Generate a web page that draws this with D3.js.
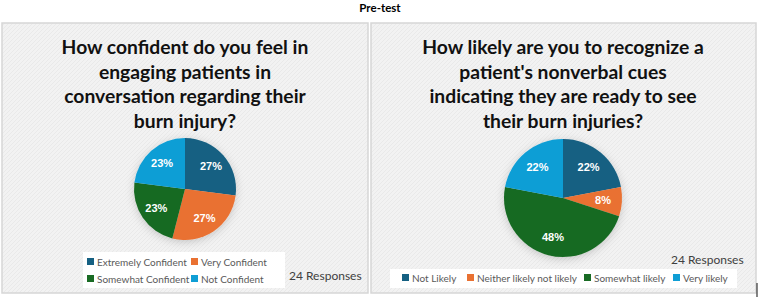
<!DOCTYPE html>
<html>
<head>
    <style>
        body { margin: 0; background: #fff; }
        svg { display: block; }
        .title { font-family: Lato, sans-serif; font-weight: bold; fill: #111; text-anchor: middle; }
        .legend text { font-family: Lato, sans-serif; font-size: 10px; fill: #595959; }
        .resp { font-family: Lato, sans-serif; font-size: 12px; fill: #404040; }
        .pct { font-family: "Liberation Sans", Arial, sans-serif; font-size: 11px; font-weight: bold; fill: #fff; text-anchor: middle; }
    </style>
</head>
<body>
<div id="chart"></div>
<script src="https://cdnjs.cloudflare.com/ajax/libs/d3/7.8.5/d3.min.js"></script>
<script>
// left chart
var confCats = ["Extremely Confident", "Very Confident", "Somewhat Confident", "Not Confident"];
var confValues = [27, 27, 23, 23];
var confTitle = ["How confident do you feel in", "engaging patients in", "conversation regarding their", "burn injury?"];

// right chart
var likelyCats = ["Not Likely", "Neither likely not likely", "Somewhat likely", "Very likely"];
var likelyValues = [22, 8, 48, 22];
var likelyTitle = ["How likely are you to recognize a", "patient's nonverbal cues", "indicating they are ready to see", "their burn injuries?"];

var colors = ["#156082", "#E97132", "#196B24", "#0F9ED5"];

var W = 760, H = 297;
var svg = d3.select("#chart").append("svg").attr("width", W).attr("height", H);

var defs = svg.append("defs");
var pat = defs.append("pattern").attr("id", "hatch").attr("patternUnits", "userSpaceOnUse")
    .attr("width", 4).attr("height", 4);
pat.append("rect").attr("width", 4).attr("height", 4).attr("fill", "#f2f2f2");
pat.append("path").attr("d", "M0,4 L4,0").attr("stroke", "#e9e9e9").attr("stroke-width", 1);

var sh = defs.append("filter").attr("id", "shadow").attr("x", "-30%").attr("y", "-30%").attr("width", "160%").attr("height", "160%");
sh.append("feDropShadow").attr("dx", 0).attr("dy", 2).attr("stdDeviation", 4).attr("flood-color", "#000").attr("flood-opacity", 0.18);

svg.append("text").attr("x", 380).attr("y", 12).attr("text-anchor", "middle")
    .style("font-family", "Lato, sans-serif").style("font-size", "11.5px").style("font-weight", "bold")
    .text("Pre-test");

function panel(opt) {
    var g = svg.append("g");
    g.append("rect").attr("x", opt.x).attr("y", 23).attr("width", opt.w).attr("height", 270)
        .attr("fill", "url(#hatch)").attr("stroke", "#d6d6d6").attr("stroke-width", 1.5);

    g.selectAll("text.title").data(opt.title).join("text")
        .attr("class", "title")
        .attr("x", opt.cx)
        .attr("y", function(d, i) { return 54 + i * 24.5; })
        .style("font-size", "19.3px")
        .text(function(d) { return d; });

    var pie = d3.pie().sort(null).value(function(d) { return d; });
    var arc = d3.arc().innerRadius(0).outerRadius(opt.r);
    var lab = d3.arc().innerRadius(opt.r * 0.68).outerRadius(opt.r * 0.68);
    var arcs = pie(opt.values);

    var pg = g.append("g").attr("transform", "translate(" + opt.cx + "," + opt.cy + ")");
    pg.append("g").attr("filter", "url(#shadow)")
        .selectAll("path").data(arcs).join("path")
        .attr("d", arc)
        .attr("fill", function(d, i) { return colors[i]; });
    pg.selectAll("text").data(arcs).join("text")
        .attr("class", "pct")
        .attr("transform", function(d) { return "translate(" + lab.centroid(d) + ")"; })
        .attr("dy", "0.35em")
        .text(function(d) { return d.data + "%"; });

    var lg = g.append("g").attr("class", "legend");
    lg.append("rect").attr("x", opt.legBox[0]).attr("y", opt.legBox[1])
        .attr("width", opt.legBox[2]).attr("height", opt.legBox[3]).attr("fill", "#fff");
    var items = lg.selectAll("g").data(opt.cats).join("g")
        .attr("transform", function(d, i) { return "translate(" + opt.legPos[i][0] + "," + opt.legPos[i][1] + ")"; });
    items.append("rect").attr("x", 0).attr("y", -4).attr("width", 7).attr("height", 7)
        .attr("fill", function(d, i) { return colors[i]; });
    items.append("text").attr("x", 10).attr("dy", "0.35em").text(function(d) { return d; });

    g.append("text").attr("class", "resp").attr("x", opt.resp[0]).attr("y", opt.resp[1])
        .text("24 Responses");
}

panel({
    x: 2, w: 366, cx: 185, cy: 189, r: 51,
    title: confTitle, values: confValues, cats: confCats,
    legBox: [83, 252, 202, 36],
    legPos: [[87, 262], [191, 262], [87, 279], [191, 279]],
    resp: [289, 280]
});

panel({
    x: 371, w: 385, cx: 563, cy: 198, r: 59,
    title: likelyTitle, values: likelyValues, cats: likelyCats,
    legBox: [390, 269, 347, 19],
    legPos: [[402, 278], [467, 278], [584, 278], [673, 278]],
    resp: [671, 264]
});

svg.append("line").attr("x1", 757).attr("x2", 757).attr("y1", 283).attr("y2", 297)
    .attr("stroke", "#333").attr("stroke-width", 1.2);
</script>
</body>
</html>
